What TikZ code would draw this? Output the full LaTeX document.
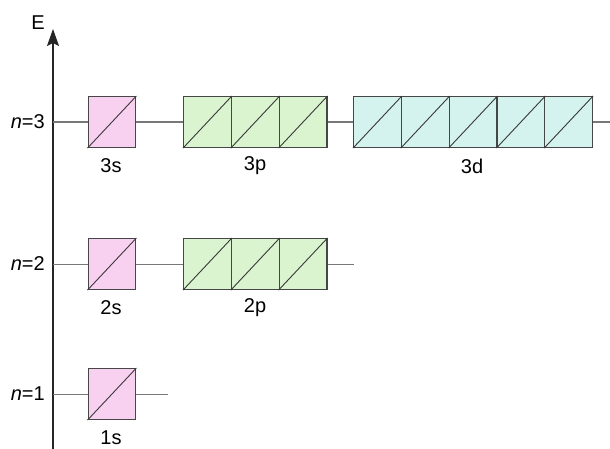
\documentclass[tikz,border=0pt]{standalone}
\usepackage{fontspec}
\setmainfont{Liberation Sans}
\usetikzlibrary{arrows.meta}
\definecolor{spink}{RGB}{249,209,240}
\definecolor{pgreen}{RGB}{218,244,207}
\definecolor{dcyan}{RGB}{212,242,238}
\definecolor{lvl}{RGB}{120,120,120}
\definecolor{edge}{RGB}{70,70,70}
\newcommand{\labfont}{\fontsize{20}{24}\selectfont}
\tikzset{
  cell/.style={draw=edge, line width=1.1pt, minimum width=47.8pt, minimum height=51pt, inner sep=0pt, anchor=north west},
  scell/.style={cell, fill=spink},
  pcell/.style={cell, fill=pgreen},
  dcell/.style={cell, fill=dcyan},
  level/.style={draw=lvl, line width=1.1pt},
  diag/.style={draw=edge!80!black, line width=0.9pt},
  lab/.style={font=\labfont, inner sep=0pt},
}
\begin{document}
\begin{tikzpicture}[x=1pt,y=-1pt]
\useasboundingbox (0,0) rectangle (610,449);
% axis
\coordinate (ab) at (53,449);
\coordinate (at) at (53,29);
\draw[line width=1.2pt, draw=black!85, -{Stealth[length=17pt,width=12pt,inset=3pt]}] (ab) -- (at);
\node[lab] (E) at (38,23) {E};
% n=3
\node[lab, anchor=east] (n3) at (45,121.5) {\textit{n}=3};
\node[scell] (s3) at (87.5,96) {};
\node[pcell] (p31) at (183,96) {};
\node[pcell] (p32) at (230.8,96) {};
\node[pcell] (p33) at (278.6,96) {};
\node[dcell] (d1) at (353,96) {};
\node[dcell] (d2) at (400.8,96) {};
\node[dcell] (d3) at (448.6,96) {};
\node[dcell] (d4) at (496.4,96) {};
\node[dcell] (d5) at (544.2,96) {};
\coordinate (a3) at (s3.west -| ab);
\coordinate (e3) at ([xshift=20pt]d5.east);
\draw[level] (a3) -- (s3.west);
\draw[level] (s3.east) -- (p31.west);
\draw[level] (p33.east) -- (d1.west);
\draw[level] (d5.east) -- (e3);
\node[lab] (l3s) at (111,166) {3s};
\node[lab] (l3p) at (255,166) {3p};
\node[lab] (l3d) at (472,166) {3d};
% n=2
\node[lab, anchor=east] (n2) at (45,263.5) {\textit{n}=2};
\node[scell] (s2) at (87.5,238) {};
\node[pcell] (p21) at (183,238) {};
\node[pcell] (p22) at (230.8,238) {};
\node[pcell] (p23) at (278.6,238) {};
\coordinate (a2) at (s2.west -| ab);
\coordinate (e2) at ([xshift=26pt]p23.east);
\draw[level] (a2) -- (s2.west);
\draw[level] (s2.east) -- (p21.west);
\draw[level] (p23.east) -- (e2);
\node[lab] (l2s) at (111,308) {2s};
\node[lab] (l2p) at (255,308) {2p};
% n=1
\node[lab, anchor=east] (n1) at (45,393.5) {\textit{n}=1};
\node[scell] (s1) at (87.5,368) {};
\coordinate (a1) at (s1.west -| ab);
\coordinate (e1) at ([xshift=32pt]s1.east);
\draw[level] (a1) -- (s1.west);
\draw[level] (s1.east) -- (e1);
\node[lab] (l1s) at (111,438) {1s};
% diagonals
\foreach \c in {s3,p31,p32,p33,d1,d2,d3,d4,d5,s2,p21,p22,p23,s1}
  \draw[diag] (\c.south west) -- (\c.north east);
\end{tikzpicture}
\end{document}
